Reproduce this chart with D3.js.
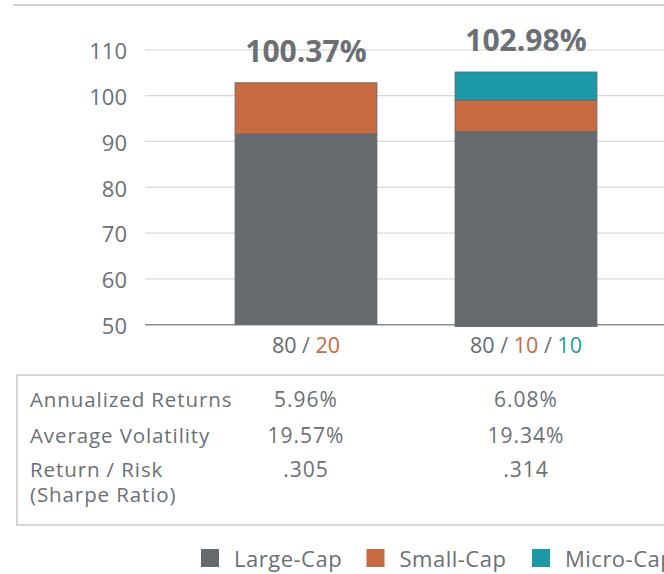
<!DOCTYPE html>
<html lang="en">
<head>
<meta charset="UTF-8">
<title>Cap Mix Returns</title>
<style>
    html, body { margin: 0; padding: 0; background: #fff; }
    body { font-family: "Open Sans", "DejaVu Sans", sans-serif; }
    .tick text { fill: #6b7075; }
</style>
</head>
<body>
<svg id="svg" width="664" height="574"></svg>
<script src="https://d3js.org/d3.v7.min.js"></script>
<script>
    // data
    const mixes = ["80 / 20", "80 / 10 / 10"];
    const mixParts = [["80", "20"], ["80", "10", "10"]];
    const totals = ["100.37%", "102.98%"];
    const barBase = [50, 49.5];
    const largeCap = [91.5, 92.0];
    const smallCap = [11.2, 6.9];
    const microCap = [0, 6.15];
    const yTicks = [50, 60, 70, 80, 90, 100, 110];
    const seriesNames = ["Large-Cap", "Small-Cap", "Micro-Cap"];
    const colors = ["#666a6e", "#c86a42", "#1c98a6"];
    const rowLabels = [["Annualized Returns"], ["Average Volatility"], ["Return / Risk", "(Sharpe Ratio)"]];
    const annReturns = ["5.96%", "6.08%"];
    const avgVol = ["19.57%", "19.34%"];
    const sharpe = [".305", ".314"];

    const textColor = "#6b7075";
    const W = 664;
    const svg = d3.select("#svg");

    const x = d3.scaleBand()
        .domain(mixes)
        .range([196, 636])
        .paddingInner(0.355)
        .paddingOuter(0.1775);

    const y = d3.scaleLinear()
        .domain([50, 110])
        .range([324.3, 49.3]);

    const color = d3.scaleOrdinal().domain(seriesNames).range(colors);

    // top rule
    svg.append("line")
        .attr("x1", 13).attr("x2", W)
        .attr("y1", 5).attr("y2", 5)
        .attr("stroke", "#d0d0d0").attr("stroke-width", 2);

    // gridlines + tick labels
    const gridLeft = 145;
    const yAxis = d3.axisLeft(y)
        .tickValues(yTicks)
        .tickSize(-(W - gridLeft))
        .tickPadding(18);

    const gy = svg.append("g")
        .attr("transform", `translate(${gridLeft},0)`)
        .call(yAxis);
    gy.select(".domain").remove();
    gy.selectAll(".tick line")
        .attr("stroke", d => d === 50 ? "#8a8d90" : "#d9d9d9")
        .attr("stroke-width", d => d === 50 ? 1.5 : 1.2);
    gy.selectAll(".tick text")
        .attr("font-size", 22)
        .attr("font-family", "Open Sans")
        .attr("dy", "0.42em");

    // stacked bars
    const rows = mixes.map((m, i) => ({
        mix: m,
        "Large-Cap": largeCap[i],
        "Small-Cap": smallCap[i],
        "Micro-Cap": microCap[i],
        base: barBase[i]
    }));
    const stacked = d3.stack().keys(seriesNames)(rows);

    svg.append("g")
        .selectAll("g")
        .data(stacked)
        .join("g")
        .attr("fill", d => color(d.key))
        .selectAll("rect")
        .data(d => d.filter(s => s[1] > s[0]))
        .join("rect")
        .attr("x", d => x(d.data.mix))
        .attr("width", x.bandwidth())
        .attr("y", d => y(d[1]))
        .attr("height", d => y(d[0] === 0 ? d.data.base : d[0]) - y(d[1]))
        .attr("stroke", "#5f6468")
        .attr("stroke-width", 0.8);

    // totals above bars
    svg.append("g")
        .selectAll("text")
        .data(rows)
        .join("text")
        .attr("x", d => x(d.mix) + x.bandwidth() / 2)
        .attr("y", d => y(d["Large-Cap"] + d["Small-Cap"] + d["Micro-Cap"]) - 21)
        .attr("text-anchor", "middle")
        .attr("font-size", 30)
        .attr("font-weight", 700)
        .attr("fill", textColor)
        .text((d, i) => totals[i]);

    // category labels with coloured parts
    const catLabels = svg.append("g")
        .selectAll("text")
        .data(mixes)
        .join("text")
        .attr("x", d => x(d) + x.bandwidth() / 2)
        .attr("y", 353)
        .attr("text-anchor", "middle")
        .attr("font-size", 21.5);

    catLabels.each(function (d, i) {
        const t = d3.select(this);
        mixParts[i].forEach((p, j) => {
            if (j > 0) t.append("tspan").attr("fill", textColor).text(" / ");
            t.append("tspan").attr("fill", colors[j]).text(p);
        });
    });

    // stats table
    const tableTop = 375;
    svg.append("rect")
        .attr("x", 17).attr("y", tableTop)
        .attr("width", W).attr("height", 150)
        .attr("fill", "none")
        .attr("stroke", "#d6d6d6")
        .attr("stroke-width", 2);

    const rowY = [407, 443, 477];
    const tableVals = [annReturns, avgVol, sharpe];

    rowLabels.forEach((lines, r) => {
        lines.forEach((line, k) => {
            svg.append("text")
                .attr("x", 30)
                .attr("y", rowY[r] + k * 25)
                .attr("font-size", 20.5)
                .attr("letter-spacing", 0.9)
                .attr("fill", textColor)
                .text(line);
        });
        tableVals[r].forEach((v, i) => {
            svg.append("text")
                .attr("x", x(mixes[i]) + x.bandwidth() / 2)
                .attr("y", rowY[r])
                .attr("text-anchor", "middle")
                .attr("font-size", 21)
                .attr("letter-spacing", 1)
                .attr("fill", textColor)
                .text(v);
        });
    });

    // legend (last entry runs off the right edge, as in the source)
    const legend = svg.append("g")
        .selectAll("g")
        .data(seriesNames)
        .join("g")
        .attr("transform", (d, i) => `translate(${201 + i * 165.5}, 549)`);

    legend.append("rect")
        .attr("width", 18).attr("height", 18)
        .attr("fill", d => color(d));

    legend.append("text")
        .attr("x", 33)
        .attr("y", 18)
        .attr("font-size", 22)
        .attr("letter-spacing", 0.5)
        .attr("fill", textColor)
        .text(d => d);
</script>
</body>
</html>
